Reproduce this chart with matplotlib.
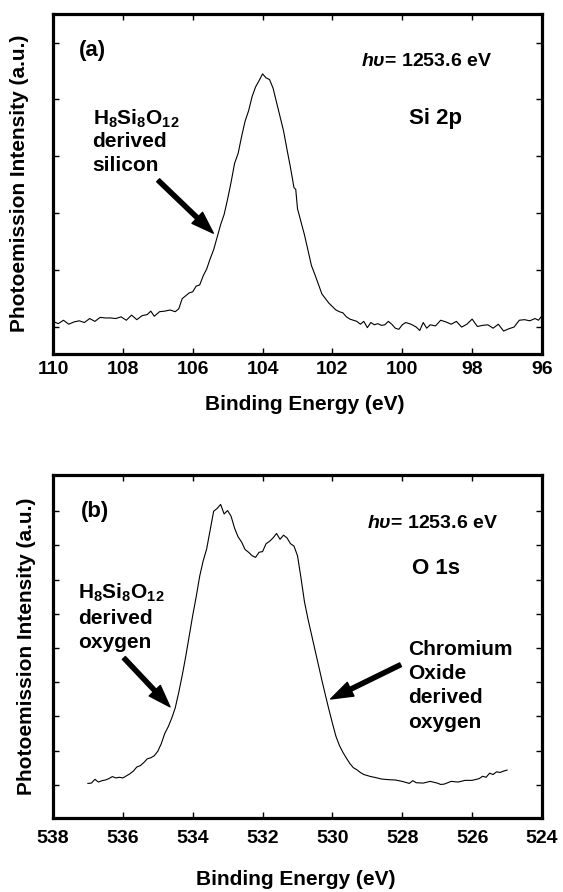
import numpy as np
import matplotlib
matplotlib.use('Agg')
import matplotlib.pyplot as plt

plt.rcParams['font.family'] = ['Liberation Sans', 'DejaVu Sans']
plt.rcParams['font.weight'] = 'bold'
plt.rcParams['mathtext.fontset'] = 'custom'
plt.rcParams['mathtext.rm'] = 'Liberation Sans:bold'
plt.rcParams['mathtext.bf'] = 'Liberation Sans:bold'
plt.rcParams['mathtext.it'] = 'Liberation Sans:italic:bold'

# Si 2p spectrum (binding energy eV, intensity a.u.)
si_energy = [110.0, 109.85, 109.7, 109.55, 109.4, 109.25, 109.1, 108.95, 108.8, 108.65,
             108.5, 108.35, 108.2, 108.05, 107.9, 107.75, 107.6, 107.45, 107.3, 107.2,
             107.1, 106.95, 106.8, 106.65, 106.5, 106.4, 106.3, 106.2, 106.1, 106.0,
             105.9, 105.8, 105.7, 105.6, 105.5, 105.4, 105.3, 105.2, 105.1, 105.0,
             104.9, 104.8, 104.7, 104.6, 104.5, 104.4, 104.3, 104.2, 104.1, 104.0,
             103.9, 103.8, 103.7, 103.6, 103.5, 103.4, 103.3, 103.2, 103.1, 103.05,
             103.0, 102.9, 102.8, 102.7, 102.6, 102.5, 102.4, 102.3, 102.2, 102.1,
             102.0, 101.9, 101.8, 101.7, 101.6, 101.5, 101.4, 101.3, 101.2, 101.1,
             101.0, 100.9, 100.8, 100.7, 100.6, 100.5, 100.4, 100.3, 100.2, 100.1,
             100.0, 99.9, 99.75, 99.6, 99.5, 99.4, 99.3, 99.2, 99.05, 98.9,
             98.75, 98.6, 98.45, 98.3, 98.15, 98.0, 97.85, 97.7, 97.55, 97.4,
             97.25, 97.1, 96.95, 96.8, 96.65, 96.5, 96.35, 96.2, 96.1, 96.0]
si_counts = [0.10, 0.06, 0.12, 0.05, 0.09, 0.11, 0.08, 0.15, 0.10, 0.17,
             0.16, 0.16, 0.15, 0.18, 0.12, 0.21, 0.13, 0.20, 0.22, 0.28,
             0.19, 0.27, 0.28, 0.30, 0.27, 0.32, 0.50, 0.55, 0.60, 0.62,
             0.72, 0.74, 0.90, 1.02, 1.20, 1.36, 1.58, 1.80, 1.98, 2.25,
             2.55, 2.88, 3.05, 3.35, 3.62, 3.80, 4.05, 4.22, 4.33, 4.45,
             4.38, 4.35, 4.20, 3.95, 3.70, 3.45, 3.12, 2.80, 2.45, 2.42,
             2.08, 1.85, 1.62, 1.35, 1.08, 0.92, 0.75, 0.58, 0.50, 0.42,
             0.36, 0.30, 0.27, 0.25, 0.18, 0.14, 0.12, 0.10, 0.05, 0.10,
             -0.01, 0.08, 0.04, 0.06, 0.03, 0.04, 0.10, 0.05, -0.02, -0.04,
             0.04, 0.08, 0.05, 0.00, -0.06, 0.08, -0.02, 0.04, 0.02, 0.12,
             0.09, 0.05, 0.10, 0.00, 0.05, 0.14, 0.01, 0.03, 0.04, -0.02,
             0.05, -0.07, -0.03, 0.00, 0.12, 0.13, 0.11, 0.15, 0.12, 0.20]

# O 1s spectrum
o_energy = [537.0, 536.9, 536.8, 536.7, 536.6, 536.5, 536.4, 536.3, 536.2, 536.1,
            536.0, 535.9, 535.8, 535.7, 535.6, 535.5, 535.4, 535.3, 535.2, 535.1,
            535.0, 534.9, 534.8, 534.7, 534.6, 534.5, 534.4, 534.3, 534.2, 534.1,
            534.0, 533.9, 533.8, 533.7, 533.6, 533.5, 533.4, 533.3, 533.2, 533.1,
            533.0, 532.9, 532.8, 532.7, 532.6, 532.5, 532.4, 532.3, 532.2, 532.1,
            532.0, 531.9, 531.8, 531.7, 531.6, 531.5, 531.4, 531.3, 531.2, 531.1,
            531.0, 530.9, 530.8, 530.7, 530.6, 530.5, 530.4, 530.3, 530.2, 530.1,
            530.0, 529.9, 529.8, 529.7, 529.6, 529.5, 529.4, 529.3, 529.2, 529.1,
            529.0, 528.9, 528.8, 528.6, 528.4, 528.2, 528.0, 527.8, 527.7, 527.6,
            527.4, 527.2, 527.0, 526.9, 526.8, 526.6, 526.4, 526.2, 526.0, 525.8,
            525.7, 525.6, 525.5, 525.4, 525.3, 525.2, 525.1, 525.0]
o_counts = [0.04, 0.05, 0.16, 0.08, 0.12, 0.14, 0.18, 0.24, 0.20, 0.22,
            0.20, 0.26, 0.32, 0.40, 0.52, 0.56, 0.65, 0.76, 0.79, 0.85,
            0.98, 1.20, 1.50, 1.70, 1.95, 2.25, 2.70, 3.20, 3.75, 4.35,
            4.95, 5.50, 6.10, 6.55, 6.90, 7.45, 8.00, 8.08, 8.20, 7.92,
            8.02, 7.85, 7.50, 7.25, 7.10, 6.88, 6.80, 6.70, 6.65, 6.80,
            6.82, 7.05, 7.12, 7.22, 7.35, 7.18, 7.30, 7.22, 7.05, 6.98,
            6.70, 6.05, 5.35, 4.85, 4.40, 3.95, 3.50, 3.05, 2.62, 2.20,
            1.80, 1.42, 1.15, 0.95, 0.78, 0.62, 0.50, 0.44, 0.36, 0.30,
            0.27, 0.24, 0.22, 0.17, 0.15, 0.14, 0.10, 0.04, 0.12, 0.06,
            0.05, 0.10, 0.05, 0.01, 0.02, 0.10, 0.08, 0.13, 0.13, 0.18,
            0.25, 0.22, 0.34, 0.30, 0.38, 0.36, 0.40, 0.43]

si_xticks = [110, 108, 106, 104, 102, 100, 98, 96]
o_xticks = [538, 536, 534, 532, 530, 528, 526, 524]

fig = plt.figure(figsize=(5.63, 8.92), dpi=100)
ax1 = fig.add_axes([0.0941, 0.6031, 0.8686, 0.3817])
ax2 = fig.add_axes([0.0941, 0.0830, 0.8686, 0.3845])

def style(ax, xticks, nyt, pad):
    ax.set_xticks(xticks)
    ax.set_xticklabels([str(t) for t in xticks])
    ax.set_yticks(range(nyt))
    ax.set_yticklabels([])
    ax.tick_params(direction='in', length=4, width=1, top=True, right=True,
                   labelsize=14, pad=pad)
    for lab in ax.get_xticklabels():
        lab.set_fontweight('bold')
    for s in ax.spines.values():
        s.set_linewidth(2.3)
    ax.set_ylabel('Photoemission Intensity (a.u.)', fontsize=15, fontweight='bold')
    ax.set_xlabel('Binding Energy (eV)', fontsize=15, fontweight='bold')

# panel (a)
ax1.plot(si_energy, si_counts, color='black', lw=0.8)
ax1.set_xlim(110, 96)
ax1.set_ylim(-0.474, 5.51)
style(ax1, si_xticks, 6, 5)
ax1.yaxis.set_label_coords(-0.05, 0.5)
ax1.xaxis.set_label_coords(0.515, -0.12)
tk = dict(transform=ax1.transAxes, fontweight='bold', va='center', ha='left')
ax1.text(0.053, 0.892, '(a)', fontsize=16, **tk)
ax1.text(0.630, 0.858, r'$h\upsilon$= 1253.6 eV', fontsize=14, **tk)
ax1.text(0.729, 0.692, 'Si 2p', fontsize=16, **tk)
ax1.text(0.081, 0.692, r'H$_8$Si$_8$O$_{12}$', fontsize=15, **tk)
ax1.text(0.081, 0.623, 'derived', fontsize=15, **tk)
ax1.text(0.081, 0.555, 'silicon', fontsize=15, **tk)
arr = dict(facecolor='black', edgecolor='black', width=3, headwidth=11,
           headlength=16, shrink=0)
ax1.annotate('', xy=(105.41, 1.65), xytext=(106.99, 2.58), arrowprops=arr)

# panel (b)
ax2.plot(o_energy, o_counts, color='black', lw=0.8)
ax2.set_xlim(538, 524)
ax2.set_ylim(-0.97, 9.06)
style(ax2, o_xticks, 9, 9)
ax2.yaxis.set_label_coords(-0.035, 0.5)
ax2.xaxis.set_label_coords(0.496, -0.152)
tk = dict(transform=ax2.transAxes, fontweight='bold', va='center', ha='left')
ax2.text(0.058, 0.893, '(b)', fontsize=16, **tk)
ax2.text(0.642, 0.859, r'$h\upsilon$= 1253.6 eV', fontsize=14, **tk)
ax2.text(0.734, 0.728, 'O 1s', fontsize=16, **tk)
ax2.text(0.051, 0.655, r'H$_8$Si$_8$O$_{12}$', fontsize=15, **tk)
ax2.text(0.051, 0.583, 'derived', fontsize=15, **tk)
ax2.text(0.051, 0.512, 'oxygen', fontsize=15, **tk)
for i, line in enumerate(['Chromium', 'Oxide', 'derived', 'oxygen']):
    ax2.text(0.726, [0.490, 0.422, 0.350, 0.277][i], line, fontsize=15, **tk)
ax2.annotate('', xy=(534.65, 2.28), xytext=(535.97, 3.71), arrowprops=arr)
ax2.annotate('', xy=(530.05, 2.51), xytext=(528.05, 3.51), arrowprops=arr)

fig.savefig('out.png', dpi=100)
plt.close(fig)
